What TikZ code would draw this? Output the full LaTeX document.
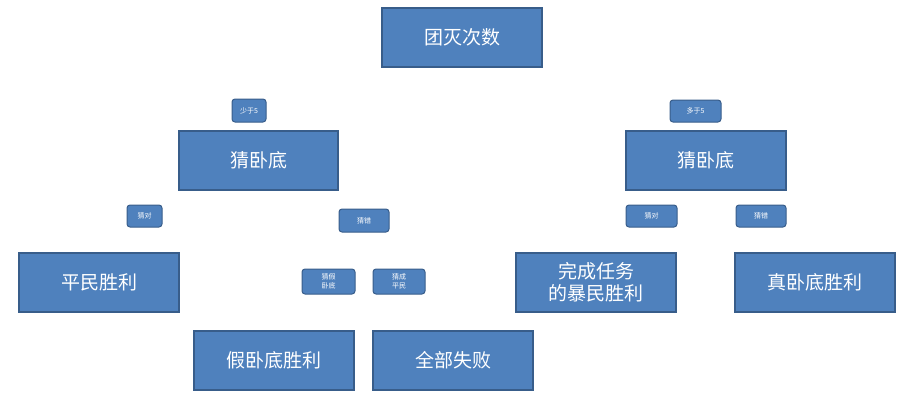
\documentclass[tikz,border=0pt]{standalone}
\usepackage{fontspec}
\setmainfont{Noto Sans CJK SC}
\begin{document}
\begin{tikzpicture}[x=1pt,y=-1pt,
  bigbox/.style={draw=blue2,fill=blue1,line width=1.2pt,text=white,font=\fontsize{19}{22}\selectfont,align=center,inner sep=0pt},
  smallbox/.style={draw=blue2,fill=blue1,line width=1pt,rounded corners=3pt,text=white,font=\fontsize{7}{8.5}\selectfont,align=center,inner sep=0pt}]
\definecolor{blue1}{HTML}{4F81BD}
\definecolor{blue2}{HTML}{385D8A}
\useasboundingbox (0,0) rectangle (924,400);
\newcommand{\bx}[7]{\node[#1,minimum width=#4-#2,minimum height=#5-#3] (#6) at ({(#2+#4)/2},{(#3+#5)/2}) {#7};}
\bx{bigbox}{382}{8}{542}{67}{top}{团灭次数}
\bx{smallbox}{232}{99}{266}{122}{lt}{少于5}
\bx{bigbox}{179}{131}{338}{190}{gl}{猜卧底}
\bx{smallbox}{670}{100}{721}{122}{mt}{多于5}
\bx{bigbox}{626}{131}{786}{190}{gr}{猜卧底}
\bx{smallbox}{127}{205}{162}{227}{dl}{猜对}
\bx{smallbox}{339}{209}{389}{232}{cl}{猜错}
\bx{smallbox}{626}{205}{677}{227}{dr}{猜对}
\bx{smallbox}{736}{205}{786}{227}{cr}{猜错}
\bx{bigbox}{19}{253}{179}{312}{pm}{平民胜利}
\bx{smallbox}{302}{269}{355}{294}{jw}{猜假\\卧底}
\bx{smallbox}{373}{269}{425}{294}{cp}{猜成\\平民}
\bx{bigbox}{516}{253}{676}{312}{bm}{完成任务\\的暴民胜利}
\bx{bigbox}{735}{253}{895}{312}{zw}{真卧底胜利}
\bx{bigbox}{194}{331}{354}{390}{jws}{假卧底胜利}
\bx{bigbox}{373}{331}{533}{390}{qb}{全部失败}
\end{tikzpicture}
\end{document}
